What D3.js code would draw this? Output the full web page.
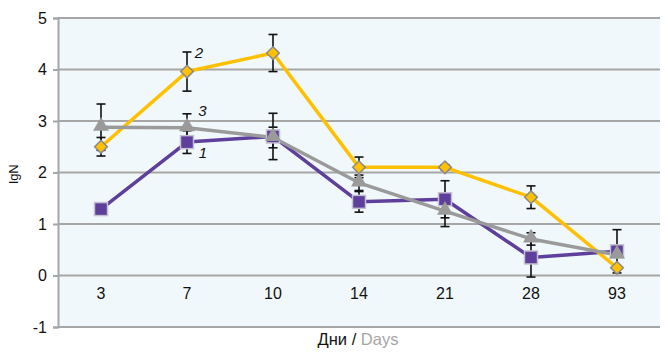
<!DOCTYPE html>
<html><head><meta charset="utf-8">
<script src="https://cdn.jsdelivr.net/npm/d3@7"></script>
<style>body{margin:0;background:#fff}svg{display:block;font-family:"Liberation Sans",Arial,sans-serif}</style>
</head><body><svg id="c" width="665" height="355"></svg>
<script>
const categories = ["3","7","10","14","21","28","93"];
const series1 = [1.29, 2.59, 2.70, 1.43, 1.48, 0.35, 0.47];
const series2 = [2.50, 3.96, 4.32, 2.10, 2.10, 1.52, 0.15];
const series3 = [2.88, 2.87, 2.68, 1.80, 1.25, 0.71, 0.40];
const err1 = [0, 0.22, 0.45, 0.20, 0.36, 0.38, 0.42];
const err2 = [0.18, 0.38, 0.36, 0.20, 0.05, 0.22, 0];
const err3 = [0.45, 0.27, 0.20, 0.15, 0.30, 0.12, 0];
const yTicks = [-1, 0, 1, 2, 3, 4, 5];
const seriesLabels = ["1", "2", "3"];

const svg = d3.select("#c");
const L = 58, R = 660, T = 18, B = 327;
const FS = 16;
const x = d3.scaleBand().domain(categories).range([L, R]);
const y = d3.scaleLinear().domain([-1, 5]).range([B, T]);
const cx = c => x(c) + x.bandwidth() / 2;

svg.append("rect").attr("x", L).attr("y", T).attr("width", R - L).attr("height", B - T).attr("fill", "#f1f8fb");

// y axis with gridlines
const yAxis = d3.axisLeft(y).tickValues(yTicks).tickSize(5).tickPadding(6).tickFormat(d => String(d));
const gy = svg.append("g").attr("transform", `translate(${L},0)`).call(yAxis)
  .attr("font-size", FS).attr("font-family", "Liberation Sans, Arial, sans-serif");
gy.select(".domain").attr("stroke", "#a6a6a6").attr("stroke-width", 2);
gy.selectAll(".tick line").attr("stroke", "#a6a6a6").attr("stroke-width", 2);
gy.selectAll(".tick text").attr("fill", "#111");
svg.append("g").selectAll("line").data(yTicks).join("line")
  .attr("x1", L).attr("x2", R).attr("y1", d => y(d)).attr("y2", d => y(d))
  .attr("stroke", "#a6a6a6").attr("stroke-width", 2);

// x category labels inside plot
const xAxis = d3.axisBottom(x).tickSize(0).tickPadding(0);
const gx = svg.append("g").attr("transform", `translate(0,${y(-0.38)})`).call(xAxis)
  .attr("font-size", FS).attr("font-family", "Liberation Sans, Arial, sans-serif");
gx.select(".domain").remove();
gx.selectAll(".tick text").attr("fill", "#111").attr("dy", 0).attr("dominant-baseline", "middle");

// axis titles
const t = svg.append("text").attr("x", 358).attr("y", 345).attr("text-anchor", "middle").attr("font-size", 16.5);
t.append("tspan").attr("fill", "#111").text("Дни / ");
t.append("tspan").attr("fill", "#a6a6a6").text("Days");
svg.append("text").attr("transform", "translate(18,174) rotate(-90)").attr("text-anchor", "middle")
  .attr("font-size", 13).attr("fill", "#111").text("lgN");

const all = [
  {v: series1, e: err1, color: "#5e3f9b"},
  {v: series2, e: err2, color: "#ffc000"},
  {v: series3, e: err3, color: "#9a9a9a"}
];

// error bars
const eg = svg.append("g").attr("stroke", "#111").attr("stroke-width", 1.6);
all.forEach(s => {
  s.v.forEach((v, i) => {
    if (!s.e[i]) return;
    const xx = cx(categories[i]);
    const y1 = y(v + s.e[i]), y2 = y(v - s.e[i]);
    eg.append("line").attr("x1", xx).attr("x2", xx).attr("y1", y1).attr("y2", y2);
    [y1, y2].forEach(yy => eg.append("line").attr("x1", xx - 4.5).attr("x2", xx + 4.5).attr("y1", yy).attr("y2", yy));
  });
});

const line = d3.line().x((d, i) => cx(categories[i])).y(d => y(d));
[0, 1, 2].forEach(k => {
  svg.append("path").datum(all[k].v).attr("d", line).attr("fill", "none")
    .attr("stroke", all[k].color).attr("stroke-width", 3.5).attr("stroke-linejoin", "round");
});

// markers
svg.append("g").selectAll("rect").data(series1).join("rect")
  .attr("x", (d, i) => cx(categories[i]) - 6.5).attr("y", d => y(d) - 6.5)
  .attr("width", 13).attr("height", 13).attr("fill", "#5e3f9b").attr("stroke", "#c4c0cf").attr("stroke-width", 1.5);
const diamond = d3.symbol().type(d3.symbolSquare).size(80);
svg.append("g").selectAll("path").data(series2).join("path")
  .attr("d", diamond).attr("transform", (d, i) => `translate(${cx(categories[i])},${y(d)}) rotate(45)`)
  .attr("fill", "#ffc000").attr("stroke", "#8a8a8a").attr("stroke-width", 1.5);
const tri = d3.symbol().type(d3.symbolTriangle).size(110);
svg.append("g").selectAll("path").data(series3).join("path")
  .attr("d", tri).attr("transform", (d, i) => `translate(${cx(categories[i])},${y(d) - 1})`)
  .attr("fill", "#9a9a9a");

// series labels
const lab = [
  {t: seriesLabels[0], i: 1, v: series1[1], dx: 16, dy: 12},
  {t: seriesLabels[1], i: 1, v: series2[1], dx: 12, dy: -18},
  {t: seriesLabels[2], i: 1, v: series3[1], dx: 15.5, dy: -16}
];
svg.append("g").selectAll("text").data(lab).join("text")
  .attr("x", d => cx(categories[d.i]) + d.dx).attr("y", d => y(d.v) + d.dy)
  .attr("text-anchor", "middle").attr("dominant-baseline", "middle")
  .attr("font-size", 15).attr("font-style", "italic").attr("fill", "#111").text(d => d.t);
</script></body></html>
